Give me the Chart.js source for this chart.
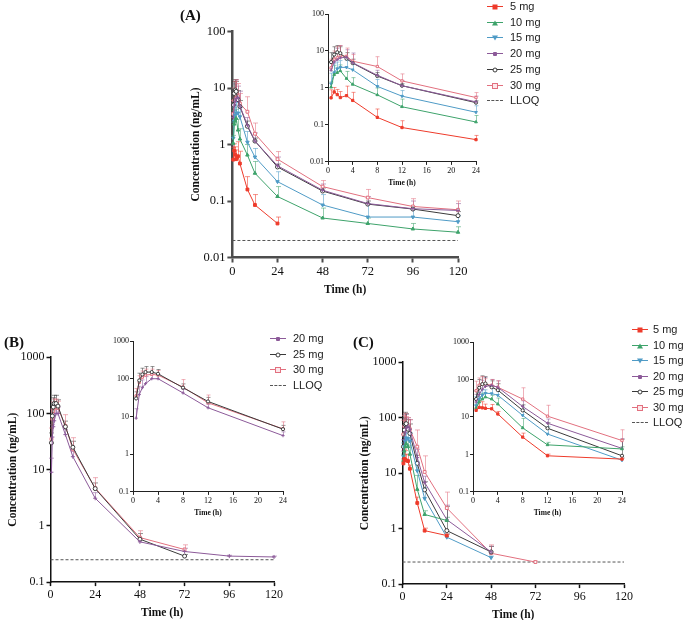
<!DOCTYPE html>
<html>
<head>
<meta charset="utf-8">
<script src="https://cdn.jsdelivr.net/npm/chart.js@4.4.1/dist/chart.umd.min.js"></script>
<style>
  body { margin: 0; background: #fff; width: 685px; height: 620px; position: relative; overflow: hidden;
         font-family: "Liberation Sans", Arial, sans-serif; }
  canvas { position: absolute; }
  .tag { position: absolute; font: bold 15px "Liberation Serif", "Times New Roman", serif; color: #111; }
  .lg { position: absolute; height: 14px; font-size: 11px; color: #222; line-height: 14px; white-space: nowrap; }
  .lg .smp { position: absolute; left: 0; top: 7px; height: 0; }
  .lg .txt { position: absolute; top: 0; }
  .mk { position: absolute; left: 50%; top: 0; transform: translate(-50%, -50%); box-sizing: border-box; }
</style>
</head>
<body>
<canvas id="mainA"></canvas>
<canvas id="insetA"></canvas>
<canvas id="mainB"></canvas>
<canvas id="insetB"></canvas>
<canvas id="mainC"></canvas>
<canvas id="insetC"></canvas>
<div class="tag" style="left:180px;top:7px">(A)</div>
<div class="tag" style="left:4px;top:334px">(B)</div>
<div class="tag" style="left:353px;top:334px">(C)</div>
<div id="legends"></div>
<script>
const SERIF = '"Liberation Serif", "Times New Roman", serif';

// sampling times (h)
const timeH = [0.5, 1, 1.5, 2, 3, 4, 8, 12, 24, 48, 72, 96, 120];
const doses = ["5 mg", "10 mg", "15 mg", "20 mg", "25 mg", "30 mg"];
const doseColors = ["#ee3b2b", "#3ea36b", "#4f9bc6", "#8c5a99", "#3a3a3a", "#e2707f"];

const xTicksMain = [0, 24, 48, 72, 96, 120];
const xTicksInset = [0, 4, 8, 12, 16, 20, 24];
const yTicksA = [0.01, 0.1, 1, 10, 100];
const yTicksBC = [0.1, 1, 10, 100, 1000];

// (A) mean and SD, ng/mL
const a5 = [0.54, 0.78, 0.66, 0.55, 0.62, 0.46, 0.16, 0.085, 0.04];
const a5sd = [0.35, 0.25, 0.25, 0.25, 0.5, 0.3, 0.11, 0.045, 0.012];
const a10 = [1.05, 2.3, 2.6, 2.9, 1.8, 1.25, 0.65, 0.31, 0.12, 0.05, 0.04, 0.032, 0.028];
const a10sd = [0.4, 1.7, 0.9, 1.3, 1.0, 0.65, 0.35, 0.19, 0.06, 0.025, 0.01, 0.008, 0.007];
const a15 = [1.3, 2.6, 3.3, 3.6, 3.6, 3.1, 1.1, 0.6, 0.22, 0.085, 0.052, 0.052, 0.043];
const a15sd = [1.2, 1.9, 1.7, 1.9, 1.9, 1.4, 0.6, 0.25, 0.11, 0.045, 0.038, 0.018, 0.012];
const a20 = [3.0, 5.0, 5.8, 6.5, 6.8, 4.8, 2.2, 1.15, 0.42, 0.155, 0.09, 0.073, 0.068];
const a20sd = [2, 4, 6, 7.5, 4, 4, 0.8, 0.45, 0.18, 0.045, 0.03, 0.027, 0.022];
const a25 = [5.0, 8.0, 9.2, 8.7, 6.2, 4.7, 2.1, 1.15, 0.40, 0.15, 0.088, 0.072, 0.055];
const a25sd = [4, 5, 4.8, 4.3, 2.8, 1.3, 0.5, 0.15, 0.05, 0.02, 0.012, 0.008, 0.01];
const a30 = [3.5, 6.0, 6.5, 7.5, 7.2, 5.3, 3.8, 1.55, 0.55, 0.18, 0.115, 0.08, 0.07];
const a30sd = [2.5, 4, 6.5, 6.5, 4.8, 2.7, 3.2, 0.85, 0.2, 0.05, 0.045, 0.03, 0.03];
const aLLOQ = 0.02;

// (B)
const b20 = [9, 38, 58, 74, 100, 100, 42, 17, 3.1, 0.52, 0.35, 0.29, 0.28];
const b20sd = [7, 25, 35, 40, 40, 30, 10, 4, 0.8, 0.08, 0.05, 0.01, 0.01];
const b25 = [30, 90, 130, 150, 150, 135, 58, 25, 4.6, 0.58, 0.29];
const b25sd = [15, 50, 60, 60, 60, 40, 15, 7, 1.2, 0.15, 0.02];
const b30 = [35, 80, 110, 125, 130, 125, 60, 23, 4.7, 0.62, 0.38];
const b30sd = [20, 40, 50, 55, 50, 40, 35, 14, 2.5, 0.2, 0.08];
const bLLOQ = 0.25;

// (C)
const c5 = [15, 18, 17.5, 17, 16.5, 12, 2.9, 0.92, 0.75];
const c5sd = [3, 9, 8, 5, 5, 2, 0.8, 0.1, 0.05];
const c10 = [17, 25, 30, 34, 30, 22, 5.1, 1.8, 1.4];
const c10sd = [5, 10, 12, 10, 8, 10, 4, 0.3, 0.2];
const c15 = [20, 30, 38, 43, 42, 38, 11, 3.5, 0.7, 0.3];
const c15sd = [15, 15, 15, 10, 20, 15, 5, 2, 0.1, 0.02];
const c20 = [25, 40, 55, 65, 70, 62, 19, 6.8, 1.45, 0.38];
const c20sd = [15, 30, 40, 50, 30, 30, 8, 2, 1.2, 0.1];
const c25 = [30, 60, 75, 78, 62, 52, 15, 5, 0.92, 0.38];
const c25sd = [20, 40, 50, 40, 30, 25, 6, 2, 1.6, 0.1];
const c30 = [50, 70, 75, 75, 70, 62, 30, 10.5, 2.35, 0.36, 0.25];
const c30sd = [40, 40, 45, 30, 30, 30, 30, 10, 2.2, 0.15, 0.01];
const cLLOQ = 0.25;

const markStyle = ["rect", "triangle", "triangle", "cross", "circle", "rect"];
const markRot = [0, 0, 180, 0, 0, 0];
const markFilled = [true, true, true, true, false, false];

// up-only SD bars, drawn under the lines
const errorBars = {
  id: "errorBars",
  beforeDatasetsDraw(chart, args, o) {
    const ctx = chart.ctx, ys = chart.scales.y;
    ctx.save();
    ctx.lineWidth = 1;
    ctx.globalAlpha = 0.55;
    chart.data.datasets.forEach((ds, i) => {
      if (!ds.sd) return;
      const meta = chart.getDatasetMeta(i);
      ctx.strokeStyle = ds.borderColor;
      meta.data.forEach((pt, j) => {
        const sd = ds.sd[j];
        if (!sd) return;
        const top = ys.getPixelForValue(ds.data[j].y + sd);
        const x = Math.round(pt.x) + 0.5;
        ctx.beginPath();
        ctx.moveTo(x, pt.y); ctx.lineTo(x, top);
        ctx.moveTo(x - o.cap, top); ctx.lineTo(x + o.cap, top);
        ctx.stroke();
      });
    });
    ctx.restore();
  }
};

function series(vals, sd, k, tMax, r) {
  const pts = vals.map((v, i) => ({ x: timeH[i], y: v })).filter(p => p.x <= tMax);
  return {
    label: doses[k], data: pts, sd: sd,
    borderColor: doseColors[k], borderWidth: 1,
    pointStyle: markStyle[k], pointRotation: markRot[k], pointRadius: r,
    pointBorderWidth: 1, pointBorderColor: doseColors[k],
    pointBackgroundColor: markFilled[k] ? doseColors[k] : "#fff",
    clip: false
  };
}

function lloq(v, tMax) {
  return { data: [{ x: 0, y: v }, { x: tMax, y: v }], borderColor: "#555", borderWidth: 1,
           borderDash: [3, 2], pointRadius: 0, clip: false };
}

function config(datasets, s) {
  const tickFont = { family: SERIF, size: s.tick };
  const titleFont = { family: SERIF, size: s.title, weight: "bold", lineHeight: 1 };
  return {
    type: "line",
    data: { datasets },
    options: {
      responsive: false, animation: false,
      layout: { padding: { top: 6, right: 12, bottom: 0, left: 0 } },
      plugins: { legend: { display: false }, tooltip: { enabled: false }, errorBars: { cap: s.cap } },
      scales: {
        x: {
          type: "linear", min: 0, max: s.xMax,
          afterBuildTicks: sc => { sc.ticks = s.xTicks.map(v => ({ value: v })); },
          border: { color: s.axis, width: s.axisW },
          grid: { drawOnChartArea: false, drawTicks: true, tickLength: s.tickLen, tickColor: s.axis, tickWidth: s.tickW },
          ticks: { font: tickFont, color: "#111", padding: s.pad, maxRotation: 0, autoSkip: false },
          title: { display: true, text: "Time (h)", font: titleFont, color: "#111", padding: { top: s.titlePad, bottom: 0 } }
        },
        y: {
          type: "logarithmic", min: s.yTicks[0], max: s.yTicks[s.yTicks.length - 1],
          afterBuildTicks: sc => { sc.ticks = s.yTicks.map(v => ({ value: v })); },
          border: { color: s.axis, width: s.axisW },
          grid: { drawOnChartArea: false, drawTicks: true, tickLength: s.tickLen, tickColor: s.axis, tickWidth: s.tickW },
          ticks: { font: tickFont, color: "#111", padding: s.pad, callback: v => String(v) },
          title: { display: s.yTitle, text: "Concentration (ng/mL)", font: titleFont, color: "#111", padding: { top: 0, bottom: 0 } }
        }
      }
    },
    plugins: [errorBars]
  };
}

// build once to measure the margins, then rebuild so the plot area lands on the box
function place(id, box, makeCfg, shiftL) {
  const cv = document.getElementById(id);
  cv.width = 400; cv.height = 300;
  let ch = new Chart(cv, makeCfg());
  const ca = ch.chartArea;
  const offL = ca.left, offT = ca.top, offR = ch.width - ca.right, offB = ch.height - ca.bottom;
  ch.destroy();
  const w = Math.round(box.r - box.l + offL + offR), h = Math.round(box.b - box.t + offT + offB);
  cv.width = w; cv.height = h;
  cv.style.width = w + "px"; cv.style.height = h + "px";
  cv.style.left = (box.l - offL) + "px"; cv.style.top = (box.t - offT) + "px";
  return new Chart(cv, makeCfg());
}

const mainStyleA = { xMax: 120, xTicks: xTicksMain, yTicks: yTicksA, tick: 12.5, title: 11.5, axis: "#4d4d4d", axisW: 2.5,
                     tickW: 2, tickLen: 5, pad: 2, titlePad: 3, cap: 2.5, yTitle: true };
const mainStyleBC = { xMax: 120, xTicks: xTicksMain, yTicks: yTicksBC, tick: 12, title: 11.5, axis: "#111", axisW: 1.5,
                      tickW: 1.5, tickLen: 4, pad: 2, titlePad: 3, cap: 2.5, yTitle: true };
const insetStyleA = { xMax: 24, xTicks: xTicksInset, yTicks: yTicksA, tick: 8, title: 7.5, axis: "#222", axisW: 1,
                      tickW: 1, tickLen: 3, pad: 1, titlePad: 3, cap: 2, yTitle: false };
const insetStyleBC = Object.assign({}, insetStyleA, { yTicks: yTicksBC });

const setA = [[a5, a5sd], [a10, a10sd], [a15, a15sd], [a20, a20sd], [a25, a25sd], [a30, a30sd]];
const setB = [[b20, b20sd, 3], [b25, b25sd, 4], [b30, b30sd, 5]];
const setC = [[c5, c5sd], [c10, c10sd], [c15, c15sd], [c20, c20sd], [c25, c25sd], [c30, c30sd]];

function dsFor(set, tMax, r, lq) {
  const out = set.map((s, i) => series(s[0], s[1], s[2] ?? i, tMax, r));
  if (lq != null) out.push(lloq(lq, tMax));
  return out;
}

place("mainA", { l: 232, t: 31.7, r: 458, b: 258 }, () => config(dsFor(setA, 120, 2, aLLOQ), mainStyleA));
place("insetA", { l: 328, t: 14, r: 476, b: 162 }, () => config(dsFor(setA, 24, 1.6, null), insetStyleA));
place("mainB", { l: 50, t: 357.3, r: 273, b: 581.7 }, () => config(dsFor(setB, 120, 2, bLLOQ), mainStyleBC));
place("insetB", { l: 133.3, t: 340.7, r: 283.3, b: 491.4 }, () => config(dsFor(setB, 24, 1.6, null), insetStyleBC));
place("mainC", { l: 402, t: 362, r: 623, b: 584 }, () => config(dsFor(setC, 120, 2, cLLOQ), mainStyleBC));
place("insetC", { l: 472.7, t: 341.7, r: 621.7, b: 492 }, () => config(dsFor(setC, 24, 1.6, null), insetStyleBC));

// legends
function marker(k) {
  const c = doseColors[k];
  const m = document.createElement("div");
  m.className = "mk";
  if (k === 0) Object.assign(m.style, { width: "5px", height: "5px", background: c });
  if (k === 1) Object.assign(m.style, { width: "0", height: "0", borderLeft: "3px solid transparent", borderRight: "3px solid transparent", borderBottom: "5px solid " + c });
  if (k === 2) Object.assign(m.style, { width: "0", height: "0", borderLeft: "3px solid transparent", borderRight: "3px solid transparent", borderTop: "5px solid " + c });
  if (k === 3) Object.assign(m.style, { width: "4px", height: "4px", background: c, borderRadius: "1px" });
  if (k === 4) Object.assign(m.style, { width: "5px", height: "5px", border: "1px solid " + c, borderRadius: "50%", background: "#fff" });
  if (k === 5) Object.assign(m.style, { width: "6px", height: "6px", border: "1px solid " + c, background: "#fde8eb" });
  return m;
}

function legend(x, textX, yc0, step, keys) {
  const host = document.getElementById("legends");
  keys.forEach((k, i) => {
    const row = document.createElement("div");
    row.className = "lg";
    row.style.left = x + "px";
    row.style.top = (yc0 + i * step - 7) + "px";
    const smp = document.createElement("div");
    smp.className = "smp";
    smp.style.width = "16px";
    const txt = document.createElement("div");
    txt.className = "txt";
    txt.style.left = (textX - x) + "px";
    if (k === "LLOQ") {
      smp.style.borderTop = "1px dashed #555";
      txt.textContent = "LLOQ";
    } else {
      smp.style.borderTop = "1px solid " + doseColors[k];
      smp.appendChild(marker(k));
      txt.textContent = doses[k];
    }
    row.appendChild(smp);
    row.appendChild(txt);
    host.appendChild(row);
  });
}

legend(487, 510, 6, 15.7, [0, 1, 2, 3, 4, 5, "LLOQ"]);
legend(270, 293, 338, 15.7, [3, 4, 5, "LLOQ"]);
legend(632, 653, 329, 15.5, [0, 1, 2, 3, 4, 5, "LLOQ"]);
</script>
</body>
</html>
